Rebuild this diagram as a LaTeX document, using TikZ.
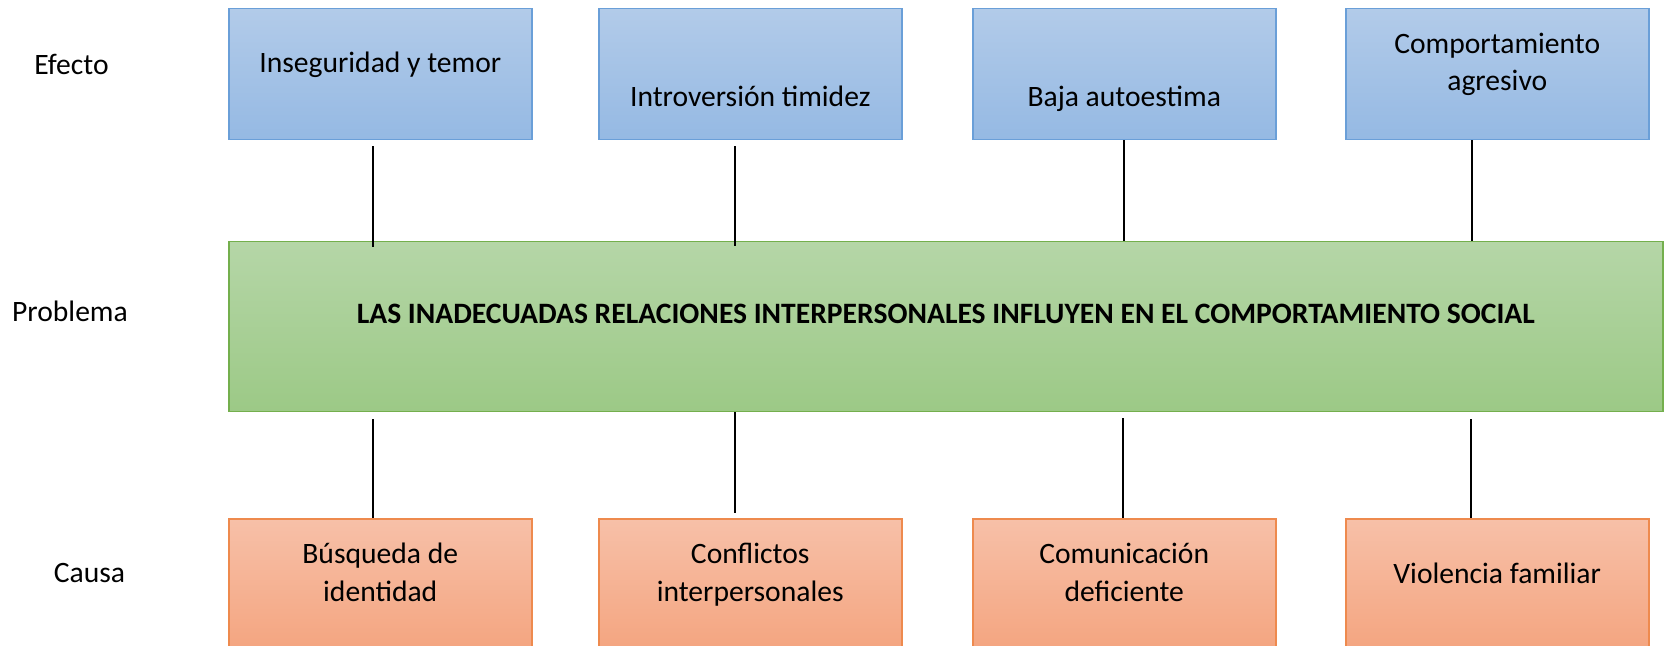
\documentclass[tikz,border=0pt]{standalone}
\usepackage{fontspec}
\setmainfont{Carlito}
\usetikzlibrary{calc}
\definecolor{etop}{HTML}{B2CBE9}
\definecolor{ebot}{HTML}{95B9E3}
\definecolor{eborder}{HTML}{6A9FD8}
\definecolor{ptop}{HTML}{B5D6A7}
\definecolor{pbot}{HTML}{9CC986}
\definecolor{pborder}{HTML}{74AF4D}
\definecolor{ctop}{HTML}{F7C0A8}
\definecolor{cbot}{HTML}{F4A580}
\definecolor{cborder}{HTML}{EE8A4E}
\begin{document}
\begin{tikzpicture}[x=0.5pt,y=-0.5pt,
  boxbase/.style={line width=0.75pt, inner sep=0pt, anchor=north west,
    minimum width=151.5pt, minimum height=65.5pt},
  ebox/.style={boxbase, draw=eborder, top color=etop, bottom color=ebot},
  cbox/.style={boxbase, draw=cborder, top color=ctop, bottom color=cbot},
  pbox/.style={boxbase, draw=pborder, top color=ptop, bottom color=pbot,
    minimum width=717pt, minimum height=85pt},
  txt/.style={font=\fontsize{14.8}{18.5}\selectfont, inner sep=0pt, anchor=base},
  conn/.style={draw=black, line width=0.6pt}
]
\useasboundingbox (0,0) rectangle (1665,646);
\clip (0,0) rectangle (1665,646);
\fill[white] (0,0) rectangle (1665,646);

% Effect boxes
\node[ebox] (e1) at (228,8) {};
\node[ebox] (e2) at (598,8) {};
\node[ebox] (e3) at (972,8) {};
\node[ebox] (e4) at (1345,8) {};

% Problem box
\node[pbox] (p) at (228,241) {};

% Cause boxes
\node[cbox] (c1) at (228,518) {};
\node[cbox] (c2) at (598,518) {};
\node[cbox] (c3) at (972,518) {};
\node[cbox] (c4) at (1345,518) {};

% Row labels
\node[txt] (lef) at (71.5,75) {Efecto};
\node[txt] (lpr) at (70,322) {Problema};
\node[txt] (lca) at (89.5,582) {Causa};

% Texts in effect boxes
\node[txt] (e1t) at ($(e1.north)+(0,64.5)$) {Inseguridad y temor};
\node[txt] (e2t) at ($(e2.north)+(0,99)$) {Introversión timidez};
\node[txt] (e3t) at ($(e3.north)+(0,99)$) {Baja autoestima};
\node[txt] (e4a) at ($(e4.north)+(0,45.5)$) {Comportamiento};
\node[txt] (e4b) at ($(e4.north)+(0,82.5)$) {agresivo};

% Problem text
\node[txt] (pt) at ($(p.north)+(0,83)$) {\textbf{LAS INADECUADAS RELACIONES INTERPERSONALES INFLUYEN EN EL COMPORTAMIENTO SOCIAL}};

% Texts in cause boxes
\node[txt] (c1a) at ($(c1.north)+(0,45.5)$) {Búsqueda de};
\node[txt] (c1b) at ($(c1.north)+(0,83)$) {identidad};
\node[txt] (c2a) at ($(c2.north)+(0,45.5)$) {Conflictos};
\node[txt] (c2b) at ($(c2.north)+(0,83)$) {interpersonales};
\node[txt] (c3a) at ($(c3.north)+(0,45.5)$) {Comunicación};
\node[txt] (c3b) at ($(c3.north)+(0,83)$) {deficiente};
\node[txt] (c4t) at ($(c4.north)+(0,65)$) {Violencia familiar};

% Connectors effect -> problem
\draw[conn] ($(e1.south west)+(145,6)$) -- ($(e1.south west |- p.north)+(145,6)$);
\draw[conn] ($(e2.south west)+(137,6)$) -- ($(e2.south west |- p.north)+(137,5)$);
\draw[conn] ($(e3.south west)+(152,0)$) -- ($(e3.south west |- p.north)+(152,0)$);
\draw[conn] ($(e4.south west)+(127,0)$) -- ($(e4.south west |- p.north)+(127,0)$);

% Connectors problem -> cause
\draw[conn] ($(p.south -| c1.north west)+(145,7)$) -- ($(c1.north west)+(145,0)$);
\draw[conn] ($(p.south -| c2.north west)+(137,0)$) -- ($(c2.north west)+(137,-5)$);
\draw[conn] ($(p.south -| c3.north west)+(151,6)$) -- ($(c3.north west)+(151,0)$);
\draw[conn] ($(p.south -| c4.north west)+(126,7)$) -- ($(c4.north west)+(126,0)$);
\end{tikzpicture}
\end{document}
